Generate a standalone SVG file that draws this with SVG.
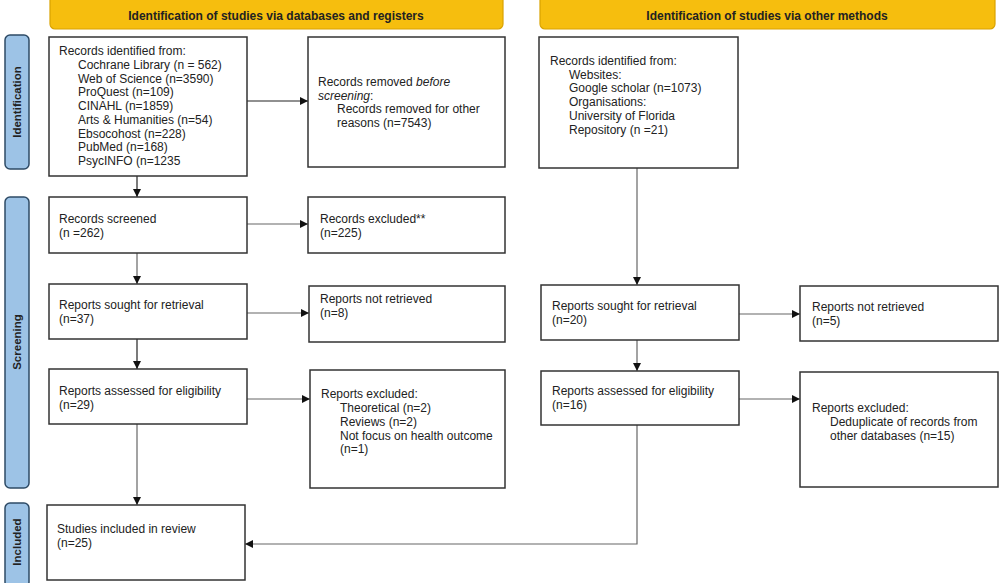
<svg xmlns="http://www.w3.org/2000/svg" width="1000" height="583" viewBox="0 0 1000 583">
<defs>
<marker id="ah" viewBox="0 0 10 10" refX="10" refY="5" markerWidth="8" markerHeight="8" markerUnits="userSpaceOnUse" orient="auto">
<path d="M0,0 L10,5 L0,10 z" fill="#111"/>
</marker>
<style>
.bg{fill:#fff}
.hdr{fill:#F6BE0E;stroke:#D9A200;stroke-width:1.2}
.hdrt{font-family:"Liberation Sans",Arial,sans-serif;font-size:12px;font-weight:bold;fill:#222;text-anchor:middle}
.side{fill:#9DC3E6;stroke:#2E4B66;stroke-width:1.5}
.sidet{font-family:"Liberation Sans",Arial,sans-serif;font-size:11.5px;font-weight:bold;fill:#222;text-anchor:middle}
.box{fill:#fff;stroke:#333;stroke-width:1.5}
.t{font-family:"Liberation Sans",Arial,sans-serif;font-size:12px;fill:#222}
.c{fill:none;stroke:#666;stroke-width:1.2}
.cd{fill:none;stroke:#222;stroke-width:1.2}
</style>
</defs>
<rect class="bg" x="0" y="0" width="1000" height="583"/>

<g id="header-left">
<rect class="hdr" x="50" y="-6" width="453" height="35" rx="5"/>
<text class="hdrt" x="276" y="19.5">Identification of studies via databases and registers</text>
</g>
<g id="header-right">
<rect class="hdr" x="540" y="-6" width="455" height="35" rx="5"/>
<text class="hdrt" x="767" y="19.5">Identification of studies via other methods</text>
</g>

<g id="side-identification">
<rect class="side" x="5" y="35" width="24" height="134" rx="5"/>
<text class="sidet" transform="translate(21,102) rotate(-90)">Identification</text>
</g>
<g id="side-screening">
<rect class="side" x="5" y="197" width="24" height="291" rx="5"/>
<text class="sidet" transform="translate(21,342) rotate(-90)">Screening</text>
</g>
<g id="side-included">
<rect class="side" x="5" y="503" width="24" height="84" rx="5"/>
<text class="sidet" transform="translate(21,542) rotate(-90)">Included</text>
</g>

<g id="connectors">
<line class="cd" x1="137" y1="176" x2="137" y2="197" marker-end="url(#ah)"/>
<line class="cd" x1="247" y1="101" x2="308" y2="101" marker-end="url(#ah)"/>
<line class="c" x1="247" y1="224" x2="308" y2="224" marker-end="url(#ah)"/>
<line class="c" x1="137" y1="253" x2="137" y2="284" marker-end="url(#ah)"/>
<line class="c" x1="247" y1="313" x2="309" y2="313" marker-end="url(#ah)"/>
<line class="cd" x1="137" y1="339" x2="137" y2="369" marker-end="url(#ah)"/>
<line class="c" x1="247" y1="399" x2="310" y2="399" marker-end="url(#ah)"/>
<line class="c" x1="137" y1="424" x2="137" y2="505" marker-end="url(#ah)"/>
<line class="c" x1="637" y1="168" x2="637" y2="285" marker-end="url(#ah)"/>
<line class="c" x1="739" y1="314" x2="800" y2="314" marker-end="url(#ah)"/>
<line class="c" x1="637" y1="340" x2="637" y2="371" marker-end="url(#ah)"/>
<line class="c" x1="739" y1="399" x2="800" y2="399" marker-end="url(#ah)"/>
<polyline class="c" points="637,425 637,544 245,544" marker-end="url(#ah)"/>
</g>

<g id="records-identified">
<rect class="box" x="49" y="37" width="198" height="139"/>
<text class="t" x="59" y="55">Records identified from:</text>
<text class="t" x="78" y="68.8">Cochrane Library (n = 562)</text>
<text class="t" x="78" y="82.5">Web of Science (n=3590)</text>
<text class="t" x="78" y="96.3">ProQuest (n=109)</text>
<text class="t" x="78" y="110">CINAHL (n=1859)</text>
<text class="t" x="78" y="123.8">Arts &amp; Humanities (n=54)</text>
<text class="t" x="78" y="137.5">Ebsocohost (n=228)</text>
<text class="t" x="78" y="151.3">PubMed (n=168)</text>
<text class="t" x="78" y="165">PsycINFO (n=1235</text>
</g>

<g id="records-removed">
<rect class="box" x="308" y="37" width="197" height="130"/>
<text class="t" x="318" y="86">Records removed <tspan font-style="italic">before</tspan></text>
<text class="t" x="318" y="99.5"><tspan font-style="italic">screening</tspan>:</text>
<text class="t" x="337" y="113">Records removed for other</text>
<text class="t" x="337" y="127">reasons (n=7543)</text>
</g>

<g id="records-other">
<rect class="box" x="539" y="37" width="199" height="131"/>
<text class="t" x="550" y="65">Records identified from:</text>
<text class="t" x="569" y="78.7">Websites:</text>
<text class="t" x="569" y="92.4">Google scholar (n=1073)</text>
<text class="t" x="569" y="106">Organisations:</text>
<text class="t" x="569" y="119.8">University of Florida</text>
<text class="t" x="569" y="133.5">Repository (n =21)</text>
</g>

<g id="records-screened">
<rect class="box" x="49" y="197" width="198" height="56"/>
<text class="t" x="59" y="223">Records screened</text>
<text class="t" x="59" y="237">(n =262)</text>
</g>

<g id="records-excluded">
<rect class="box" x="308" y="197" width="197" height="56"/>
<text class="t" x="320" y="223">Records excluded**</text>
<text class="t" x="320" y="237">(n=225)</text>
</g>

<g id="reports-sought-left">
<rect class="box" x="49" y="284" width="198" height="55"/>
<text class="t" x="59" y="309">Reports sought for retrieval</text>
<text class="t" x="59" y="323">(n=37)</text>
</g>

<g id="reports-not-retrieved-left">
<rect class="box" x="309" y="286" width="196" height="56"/>
<text class="t" x="320" y="303">Reports not retrieved</text>
<text class="t" x="320" y="317">(n=8)</text>
</g>

<g id="reports-assessed-left">
<rect class="box" x="49" y="369" width="198" height="55"/>
<text class="t" x="59" y="395">Reports assessed for eligibility</text>
<text class="t" x="59" y="409">(n=29)</text>
</g>

<g id="reports-excluded-left">
<rect class="box" x="310" y="370" width="195" height="118"/>
<text class="t" x="321" y="398">Reports excluded:</text>
<text class="t" x="340" y="412">Theoretical (n=2)</text>
<text class="t" x="340" y="426">Reviews (n=2)</text>
<text class="t" x="340" y="439.5">Not focus on health outcome</text>
<text class="t" x="340" y="453">(n=1)</text>
</g>

<g id="studies-included">
<rect class="box" x="47" y="505" width="198" height="75"/>
<text class="t" x="57" y="533">Studies included in review</text>
<text class="t" x="57" y="547">(n=25)</text>
</g>

<g id="reports-sought-right">
<rect class="box" x="541" y="285" width="198" height="55"/>
<text class="t" x="552" y="310">Reports sought for retrieval</text>
<text class="t" x="552" y="324">(n=20)</text>
</g>

<g id="reports-not-retrieved-right">
<rect class="box" x="800" y="286" width="198" height="55"/>
<text class="t" x="812" y="311">Reports not retrieved</text>
<text class="t" x="812" y="325">(n=5)</text>
</g>

<g id="reports-assessed-right">
<rect class="box" x="541" y="371" width="198" height="54"/>
<text class="t" x="552" y="395">Reports assessed for eligibility</text>
<text class="t" x="552" y="409">(n=16)</text>
</g>

<g id="reports-excluded-right">
<rect class="box" x="800" y="372" width="198" height="115"/>
<text class="t" x="812" y="412">Reports excluded:</text>
<text class="t" x="830" y="426">Deduplicate of records from</text>
<text class="t" x="830" y="439.5">other databases (n=15)</text>
</g>
</svg>
